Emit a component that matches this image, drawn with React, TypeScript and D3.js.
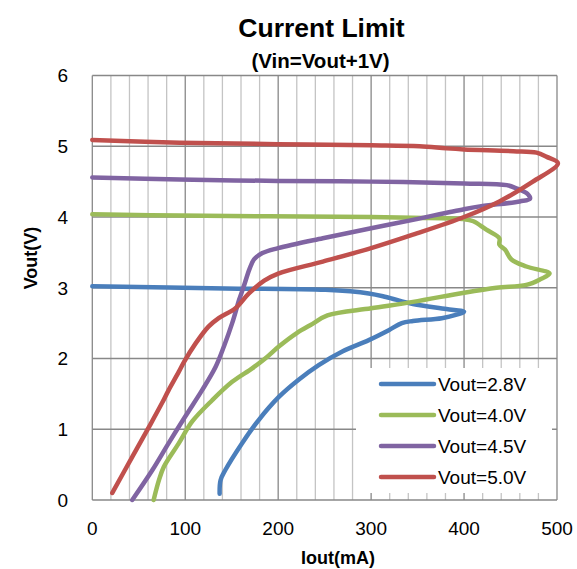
import React from "react";
import * as d3 from "d3";

const W = 577;
const H = 569;

// ---- data ----
const xTicks = [0, 100, 200, 300, 400, 500];
const yTicks = [0, 1, 2, 3, 4, 5, 6];
const seriesNames = ["Vout=2.8V", "Vout=4.0V", "Vout=4.5V", "Vout=5.0V"];
const seriesColors = ["#4A7EBB", "#9BBB59", "#8064A2", "#C0504D"];

const blueI = [0, 143, 251, 297.5, 316, 345, 381, 400, 392, 376, 345, 333, 319, 297.5, 269, 244, 222, 201, 179, 161, 143, 138, 137];
const blueV = [3.02, 2.99, 2.97, 2.92, 2.87, 2.77, 2.7, 2.66, 2.62, 2.57, 2.53, 2.5, 2.4, 2.26, 2.1, 1.91, 1.7, 1.46, 1.13, 0.8, 0.42, 0.28, 0.09];

const greenI = [0, 94, 300, 345, 400, 410, 424, 438, 438, 444, 451, 467, 492, 482, 467, 435, 400, 345, 300, 253, 237, 220, 200.7, 186, 172, 150.5, 129, 107.5, 93, 77, 71.7, 66];
const greenV = [4.04, 4.02, 4.0, 3.99, 3.97, 3.94, 3.82, 3.7, 3.61, 3.54, 3.4, 3.3, 3.2, 3.12, 3.04, 3.0, 2.93, 2.8, 2.71, 2.61, 2.49, 2.36, 2.17, 2.0, 1.86, 1.67, 1.41, 1.11, 0.8, 0.47, 0.28, 0.0];

const purpleI = [0, 94, 200, 300, 400, 446, 457, 468, 471, 460, 417, 400, 345, 300, 248, 200, 183, 174, 169, 163, 158, 150.5, 141.6, 132.6, 118, 100, 82, 64.5, 43];
const purpleV = [4.56, 4.53, 4.51, 4.5, 4.475, 4.45, 4.4, 4.33, 4.26, 4.22, 4.15, 4.11, 3.96, 3.84, 3.7, 3.56, 3.49, 3.4, 3.26, 3.02, 2.83, 2.5, 2.17, 1.88, 1.55, 1.18, 0.8, 0.42, 0.0];

const redI = [0, 94, 200, 300, 352, 381, 400, 453, 478, 489, 501, 474, 438, 400, 345, 300, 248, 200, 185, 168.5, 154, 136, 125, 111, 98.6, 93, 82, 75, 63, 43, 21.5];
const redV = [5.09, 5.05, 5.03, 5.014, 5.0, 4.97, 4.955, 4.93, 4.91, 4.85, 4.76, 4.5, 4.22, 4.0, 3.75, 3.56, 3.37, 3.2, 3.1, 2.92, 2.71, 2.57, 2.45, 2.21, 1.95, 1.81, 1.55, 1.37, 1.08, 0.61, 0.1];

const seriesI = [blueI, greenI, purpleI, redI];
const seriesV = [blueV, greenV, purpleV, redV];

// ---- layout ----
const plot = { left: 92.3, right: 557, top: 75.5, bottom: 500 };
const FONT = "'Liberation Sans', Arial, sans-serif";

export default function App() {
  const x = d3.scaleLinear().domain([0, 500]).range([plot.left, plot.right]);
  const y = d3.scaleLinear().domain([0, 6]).range([plot.bottom, plot.top]);

  const minor = d3.range(0, 501, 20).filter((v) => v % 100 !== 0);

  const line = d3
    .line<[number, number]>()
    .x((d) => x(d[0]))
    .y((d) => y(d[1]))
    .curve(d3.curveCatmullRom.alpha(0.5));

  const legend = { x0: 356, y0: 368, x1: 552, y1: 493 };
  const legendRows = [384, 415, 446, 477];

  return (
    <div style={{ position: "absolute", left: 0, top: 0 }}>
      <svg width={W} height={H} style={{ display: "block", background: "#fff" }}>
        <rect x={0} y={0} width={W} height={H} fill="#fff" />
        {/* minor vertical gridlines */}
        {minor.map((v) => (
          <line key={"m" + v} x1={x(v)} x2={x(v)} y1={plot.top} y2={plot.bottom} stroke="#C4C4C4" strokeWidth={1.3} />
        ))}
        {/* major vertical gridlines */}
        {xTicks.map((v) => (
          <line key={"M" + v} x1={x(v)} x2={x(v)} y1={plot.top} y2={plot.bottom} stroke="#888888" strokeWidth={1.3} />
        ))}
        {/* horizontal gridlines */}
        {yTicks.map((v) => (
          <line key={"h" + v} x1={plot.left} x2={plot.right} y1={y(v)} y2={y(v)} stroke="#888888" strokeWidth={1.3} />
        ))}
        {/* series */}
        {seriesI.map((arr, i) => {
          const pts = arr.map((v, j) => [v, seriesV[i][j]] as [number, number]);
          return (
            <path
              key={"s" + i}
              d={line(pts) || ""}
              fill="none"
              stroke={seriesColors[i]}
              strokeWidth={4.5}
              strokeLinejoin="round"
              strokeLinecap="round"
            />
          );
        })}
        {/* legend */}
        <rect x={legend.x0} y={legend.y0} width={legend.x1 - legend.x0} height={legend.y1 - legend.y0} fill="#fff" />
        {seriesNames.map((name, i) => (
          <g key={"l" + i}>
            <line x1={381} x2={434} y1={legendRows[i]} y2={legendRows[i]} stroke={seriesColors[i]} strokeWidth={4.5} strokeLinecap="round" />
            <text x={438} y={legendRows[i] + 6.8} fontFamily={FONT} fontSize={19} fill="#000">
              {name}
            </text>
          </g>
        ))}
        {/* y tick labels */}
        {yTicks.map((v) => (
          <text key={"yl" + v} x={68} y={y(v) + 6.8} textAnchor="end" fontFamily={FONT} fontSize={19} fill="#000">
            {v}
          </text>
        ))}
        {/* x tick labels */}
        {xTicks.map((v) => (
          <text key={"xl" + v} x={x(v)} y={534.5} textAnchor="middle" fontFamily={FONT} fontSize={19} fill="#000">
            {v}
          </text>
        ))}
        {/* titles */}
        <text x={321.5} y={36.7} textAnchor="middle" fontFamily={FONT} fontSize={26.5} fontWeight="bold" fill="#000">
          Current Limit
        </text>
        <text x={320.5} y={68} textAnchor="middle" fontFamily={FONT} fontSize={20.5} fontWeight="bold" fill="#000">
          (Vin=Vout+1V)
        </text>
        <text x={338} y={564} textAnchor="middle" fontFamily={FONT} fontSize={18} fontWeight="bold" fill="#000">
          Iout(mA)
        </text>
        <text
          transform={`translate(37,258) rotate(-90)`}
          textAnchor="middle"
          fontFamily={FONT}
          fontSize={18}
          fontWeight="bold"
          fill="#000"
        >
          Vout(V)
        </text>
      </svg>
    </div>
  );
}
